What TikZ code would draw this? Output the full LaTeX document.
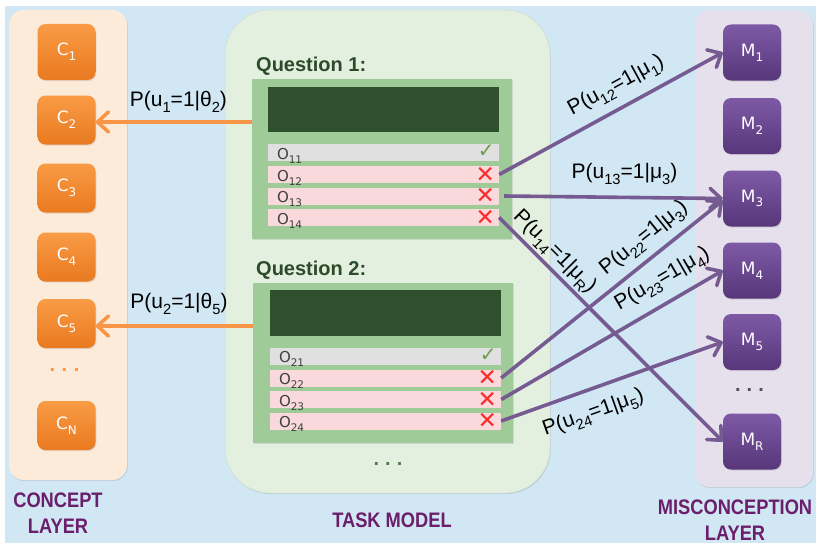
\documentclass[tikz,border=0pt]{standalone}
\usepackage{fontspec}
\setmainfont{Liberation Sans}
\newfontfamily\boxfont{DejaVu Sans}
\newfontfamily\layerfont[FakeStretch=0.87]{Liberation Sans}
\usetikzlibrary{arrows.meta,shadows,calc}
\definecolor{bgblue}{HTML}{D1E7F4}
\definecolor{conceptbg}{HTML}{FDEBDA}
\definecolor{taskbg}{HTML}{E3F0E0}
\definecolor{miscbg}{HTML}{E6E0EC}
\definecolor{qgreen}{HTML}{9ECB98}
\definecolor{qdark}{HTML}{2F4F2D}
\definecolor{rowgray}{HTML}{E0E0E0}
\definecolor{rowpink}{HTML}{F9D9DB}
\definecolor{arrowpurple}{HTML}{765B92}
\definecolor{arroworange}{HTML}{F79646}
\definecolor{orangetop}{HTML}{F99B45}
\definecolor{orangebot}{HTML}{E97A20}
\definecolor{purpletop}{HTML}{7E5AA6}
\definecolor{purplebot}{HTML}{57367A}
\definecolor{layertext}{HTML}{6B1E6B}
\definecolor{qtext}{HTML}{2D4A29}
\definecolor{checkgreen}{HTML}{6E9B4E}
\definecolor{crossred}{HTML}{FF2A2A}
\definecolor{otextc}{HTML}{404040}
\definecolor{mdots}{HTML}{4F4F60}
\definecolor{tdotsc}{HTML}{4E7D48}
\newcommand\sbs[1]{\raisebox{-0.28em}{\scalebox{0.7}{#1}}}
\tikzset{
  softshadow/.style={drop shadow={shadow xshift=0.8pt,shadow yshift=-1.2pt,opacity=0.22}},
  cbox/.style={rounded corners=8pt, top color=orangetop, bottom color=orangebot,
    minimum width=58pt, minimum height=49pt, inner sep=0pt, text=white,
    font=\boxfont\fontsize{17}{20}\selectfont, softshadow},
  mbox/.style={cbox, top color=purpletop, bottom color=purplebot, minimum height=56pt},
  qbox/.style={fill=qgreen, inner sep=0pt, minimum width=260pt, minimum height=160pt, softshadow},
  qdarkbox/.style={fill=qdark, inner sep=0pt, minimum width=231pt, minimum height=45pt},
  optrow/.style={inner sep=0pt, minimum width=231pt, minimum height=17pt},
  otxt/.style={inner sep=0pt, text=otextc, font=\boxfont\fontsize{15}{16}\selectfont},
  chk/.style={inner sep=0pt, text=checkgreen, font=\boxfont\fontsize{20}{20}\selectfont},
  crs/.style={inner sep=0pt, text=crossred, font=\boxfont\fontsize{23}{23}\selectfont},
  qlabel/.style={inner sep=0pt, anchor=base west, text=qtext, font=\bfseries\fontsize{20}{24}\selectfont},
  layerlabel/.style={inner sep=0pt, align=center, text=layertext, font=\layerfont\bfseries\fontsize{21}{26}\selectfont},
  plabel/.style={inner sep=0pt, text height=15pt, text depth=5pt, font=\fontsize{21}{24}\selectfont},
  oarrow/.style={draw=arroworange, line width=3.6pt, -{Straight Barb[length=11pt,width=20pt,round]}},
  parrow/.style={draw=arrowpurple, line width=3.6pt, -{Straight Barb[length=11pt,width=20pt,round]}},
}
\begin{document}
\begin{tikzpicture}[x=1pt,y=-1pt]
\useasboundingbox (0,0) rectangle (816,543);
\fill[bgblue] (5,6) rectangle (816,543);
% panels
\fill[conceptbg, rounded corners=15pt, softshadow] (9,10) rectangle (127,480);
\fill[miscbg, rounded corners=15pt, softshadow] (695,10) rectangle (813,487);
\filldraw[fill=taskbg, draw=taskbg!92!black, line width=0.5pt, rounded corners=45pt, softshadow] (225,10) rectangle (550,493);
% concept nodes
\node[cbox, minimum height=56pt] (c1) at (66.5,52) {C\sbs{1}};
\node[cbox] (c2) at (66.5,120) {C\sbs{2}};
\node[cbox] (c3) at (66.5,188) {C\sbs{3}};
\node[cbox] (c4) at (66.5,257) {C\sbs{4}};
\node[cbox] (c5) at (66.5,323.5) {C\sbs{5}};
\node[text=arroworange, inner sep=0pt, font=\bfseries\fontsize{20}{20}\selectfont] (cdots) at (64.5,370) {.\hspace{6.5pt}.\hspace{6.5pt}.};
\node[cbox] (cn) at (66.5,425.5) {C\sbs{N}};
% misconception nodes
\node[mbox] (m1) at (752,52.5) {M\sbs{1}};
\node[mbox] (m2) at (752,126) {M\sbs{2}};
\node[mbox] (m3) at (752,198.5) {M\sbs{3}};
\node[mbox] (m4) at (752,270.5) {M\sbs{4}};
\node[mbox] (m5) at (752,342) {M\sbs{5}};
\node[text=mdots, inner sep=0pt, font=\bfseries\fontsize{20}{20}\selectfont] (mdotsn) at (749.5,390) {.\hspace{6pt}.\hspace{6pt}.};
\node[mbox] (mr) at (752,441.5) {M\sbs{R}};
% question 1
\node[qlabel] (q1lab) at (256,71) {Question 1:};
\node[qbox] (q1) at (382,159) {};
\node[qdarkbox] (q1d) at (383.5,109.5) {};
\node[optrow, fill=rowgray] (r11) at (383.5,152.5) {};
\node[optrow, fill=rowpink] (r12) at (383.5,174.5) {};
\node[optrow, fill=rowpink] (r13) at (383.5,196) {};
\node[optrow, fill=rowpink] (r14) at (383.5,217.5) {};
\foreach \r/\t in {r11/11,r12/12,r13/13,r14/14}{
  \node[otxt, anchor=base west] at ($(\r.south west)+(9,-2)$) {O\sbs{\t}};
}
\node[chk] at ($(r11.east)+(-13,-1)$) {✓};
\foreach \r in {r12,r13,r14}{ \node[crs] at ($(\r.east)+(-14,0)$) {✕}; }
% question 2
\node[qlabel] (q2lab) at (256,275.5) {Question 2:};
\node[qbox] (q2) at (383,363) {};
\node[qdarkbox, minimum height=46pt] (q2d) at (385,313) {};
\node[optrow, fill=rowgray] (r21) at (385.5,356) {};
\node[optrow, fill=rowpink] (r22) at (385.5,378) {};
\node[optrow, fill=rowpink] (r23) at (385.5,399.5) {};
\node[optrow, fill=rowpink] (r24) at (385.5,421) {};
\foreach \r/\t in {r21/21,r22/22,r23/23,r24/24}{
  \node[otxt, anchor=base west] at ($(\r.south west)+(9,-2)$) {O\sbs{\t}};
}
\node[chk] at ($(r21.east)+(-13,-1)$) {✓};
\foreach \r in {r22,r23,r24}{ \node[crs] at ($(\r.east)+(-14,0)$) {✕}; }
\node[text=tdotsc, inner sep=0pt, font=\bfseries\fontsize{20}{20}\selectfont] (tdots) at (388,464) {.\hspace{6pt}.\hspace{6pt}.};
% layer labels
\node[layerlabel] (cl) at (58,513) {CONCEPT\\LAYER};
\node[layerlabel] (tl) at (392,520) {TASK MODEL};
\node[layerlabel] (ml) at (735,520) {MISCONCEPTION\\LAYER};
% orange connectors
\draw[oarrow] (q1.west |- 0,122) -- (c2.east |- 0,122)
  node[plabel, pos=.47, above=9pt] {P(u\sbs{1}=1|θ\sbs{2})};
\draw[oarrow] (q2.west |- 0,326) -- (c5.east |- 0,326)
  node[plabel, pos=.47, above=11pt] {P(u\sbs{2}=1|θ\sbs{5})};
% purple connectors
\draw[parrow] (r12.east) -- (m1.west)
  node[plabel, pos=.57, sloped, above=10pt] {P(u\sbs{12}=1|μ\sbs{1})};
\draw[parrow] ([xshift=5pt]r13.east) -- (m3.west)
  node[plabel, pos=.55, above=12pt] {P(u\sbs{13}=1|μ\sbs{3})};
\draw[parrow] (r14.east) -- (mr.west)
  node[plabel, pos=.2, sloped, above=3pt] {P(u\sbs{14}=1|μ\sbs{R})};
\draw[parrow] (r22.east) -- ([yshift=-2pt]m3.west)
  node[plabel, pos=.70, sloped, above=8pt] {P(u\sbs{22}=1|μ\sbs{3})};
\draw[parrow] (r23.east) -- (m4.west)
  node[plabel, pos=.78, sloped, above=11pt] {P(u\sbs{23}=1|μ\sbs{4})};
\draw[parrow] (r24.east) -- (m5.west)
  node[plabel, pos=.38, sloped, below=12pt] {P(u\sbs{24}=1|μ\sbs{5})};
\end{tikzpicture}
\end{document}
